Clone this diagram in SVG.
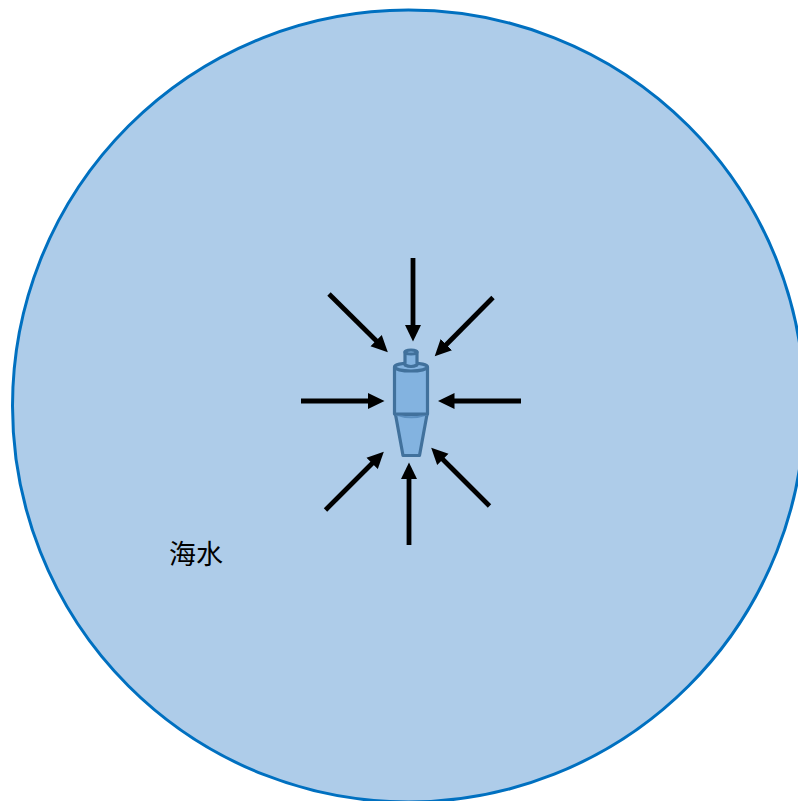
<svg xmlns="http://www.w3.org/2000/svg" width="798" height="801" viewBox="0 0 798 801">
<style>
.a{stroke:#000;stroke-width:4.800;fill:none;marker-end:url(#h)}
.d{fill:#83b3e0;stroke:#41719c;stroke-width:3.200;stroke-linejoin:round}
.t{font-family:"Noto Sans CJK SC","Noto Sans CJK JP",sans-serif;font-size:27px;fill:#000}
</style>
<defs><marker id="h" markerUnits="userSpaceOnUse" markerWidth="17" markerHeight="17" refX="8" refY="8.500" orient="auto"><path d="M0 0.500L16.500 8.500L0 16.500Z" fill="#000"/></marker></defs>
<rect width="798" height="801" fill="#fff"/>
<g id="sea"><circle cx="408.500" cy="406" r="396" fill="#aecce9" stroke="#0070c0" stroke-width="3"/></g>
<g id="label"><text class="t" x="169" y="563.500">海水</text></g>
<g id="device">
<path class="d" d="M395.500 414.500L427 414.500L419.500 455.500L403 455.500Z"/>
<path d="M396 414.500Q411 420 427 414.500" fill="none" stroke="#5b8fc0" stroke-width="2"/>
<path class="d" d="M394.500 367V414H427.500V367Z"/>
<ellipse class="d" cx="411" cy="367" rx="16.500" ry="4" fill="#a5c8e8"/>
<path class="d" d="M405 352V365Q411 368 417 365V352Z"/>
<ellipse class="d" cx="411" cy="352" rx="6" ry="2"/>
</g>
<g id="connectors">
<path class="a" d="M413 258V333"/>
<path class="a" d="M329 294L381.800 346.300"/>
<path class="a" d="M493 297.500L440.700 350.300"/>
<path class="a" d="M301 401H376"/>
<path class="a" d="M521 401H446.500"/>
<path class="a" d="M325.500 510L377.800 457.700"/>
<path class="a" d="M489.500 506L437.200 453.700"/>
<path class="a" d="M409 545V471"/>
</g>
</svg>
